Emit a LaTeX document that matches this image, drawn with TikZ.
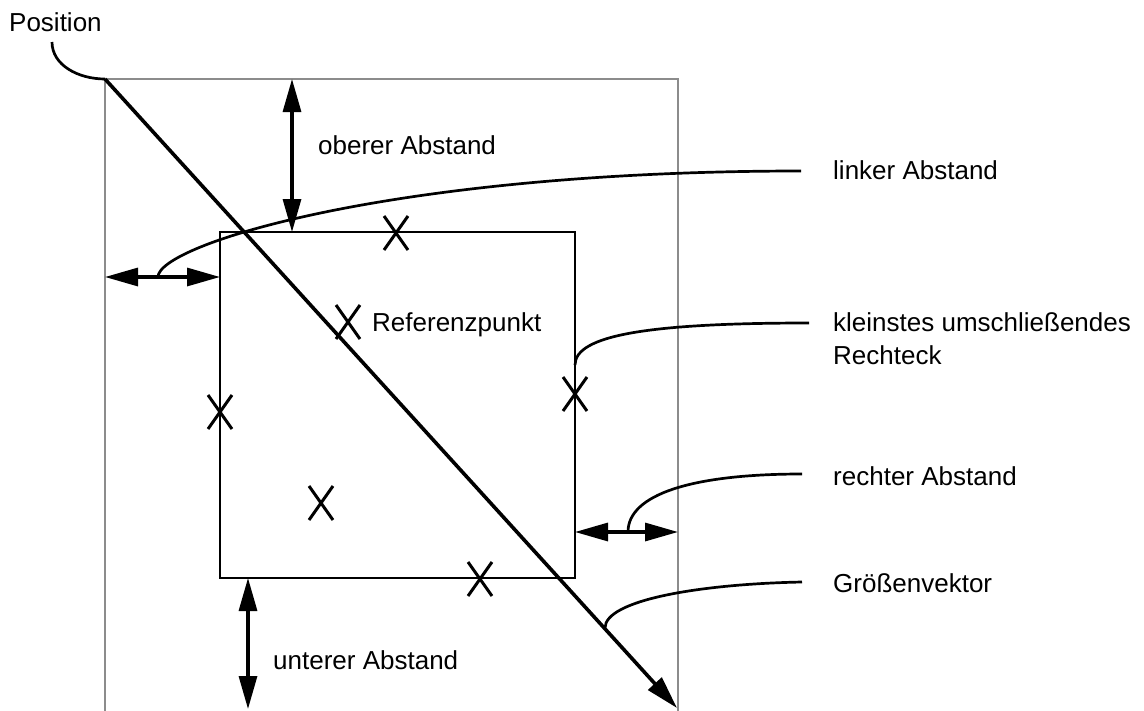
\documentclass[tikz,border=0pt]{standalone}
\usepackage{fontspec}
\setmainfont{Liberation Sans}
\usetikzlibrary{arrows.meta,shapes.misc}
\definecolor{framegray}{RGB}{140,140,140}
\begin{document}
\begin{tikzpicture}[x=1pt,y=-1pt,
  lbl/.style={anchor=base west,inner sep=0pt,font=\fontsize{26}{31}\selectfont},
  xmark/.style={cross out,draw,line width=3pt,minimum width=24pt,minimum height=34pt,inner sep=0pt,outer sep=0pt},
  dimarrow/.style={line width=3.2pt,{Triangle[length=33pt,width=18pt]}-{Triangle[length=33pt,width=18pt]}},
  vecarrow/.style={line width=3.6pt,-{Triangle[length=33pt,width=18pt]}},
  lead/.style={line width=2.7pt},
  frame/.style={draw=framegray,line width=2.6pt},
  bbox/.style={line width=2.9pt}
]
\useasboundingbox (0,0) rectangle (1144,710);

% outer frame (gray)
\coordinate (fbl) at (105,712);
\coordinate (ftl) at (105,79);
\coordinate (ftr) at (678,79);
\coordinate (fbr) at (678,712);
\draw[frame] (fbl) -- (ftl) -- (ftr) -- (fbr);

% inner rectangle
\coordinate (rtl) at (220,232);
\coordinate (rbr) at (575,578);
\draw[bbox] (rtl) rectangle (rbr);

% size vector
\coordinate (vtip) at (677,708);
\draw[vecarrow] (ftl) -- (vtip);

% dimension arrows
\coordinate (ob1) at (292,79);
\coordinate (ob2) at (292,232);
\draw[dimarrow] (ob1) -- (ob2);
\coordinate (li1) at (105,277);
\coordinate (li2) at (220,277);
\draw[dimarrow] (li1) -- (li2);
\coordinate (re1) at (575,532);
\coordinate (re2) at (678,532);
\draw[dimarrow] (re1) -- (re2);
\coordinate (un1) at (248,578);
\coordinate (un2) at (248,709);
\draw[dimarrow] (un1) -- (un2);

% crosses
\node[xmark] (x1) at (396,233) {};
\node[xmark] (x2) at (348,322) {};
\node[xmark] (x3) at (575,394) {};
\node[xmark] (x4) at (220,412) {};
\node[xmark] (x5) at (321,503) {};
\node[xmark] (x6) at (480,579) {};

% labels
\node[lbl] (lpos) at (9,31) {Position};
\node[lbl] (lob) at (318,154) {oberer Abstand};
\node[lbl] (lli) at (833,179) {linker Abstand};
\node[lbl] (lref) at (372,331) {Referenzpunkt};
\node[lbl] (lkl) at (833,331) {kleinstes umschließendes};
\node[lbl] (lkl2) at (833,364) {Rechteck};
\node[lbl] (lre) at (833,485) {rechter Abstand};
\node[lbl] (lgr) at (833,592) {Größenvektor};
\node[lbl] (lun) at (273,669) {unterer Abstand};

% leader curves
\coordinate (cpos) at (52,42);
\draw[lead] (cpos) .. controls (52,65) and (78,79) .. (ftl);
\coordinate (cli1) at (158,277);
\coordinate (cli2) at (801,171);
\draw[lead] (cli1) .. controls (158,245) and (390,171) .. (cli2);
\coordinate (ckl1) at (575,365);
\coordinate (ckl2) at (809,323);
\draw[lead] (ckl1) .. controls (575,335) and (650,323) .. (ckl2);
\coordinate (cre1) at (628,532);
\coordinate (cre2) at (802,474);
\draw[lead] (cre1) .. controls (628,495) and (690,474) .. (cre2);
\coordinate (cgr1) at (605,628);
\coordinate (cgr2) at (802,582);
\draw[lead] (cgr1) .. controls (605,600) and (700,584) .. (cgr2);
\end{tikzpicture}
\end{document}
